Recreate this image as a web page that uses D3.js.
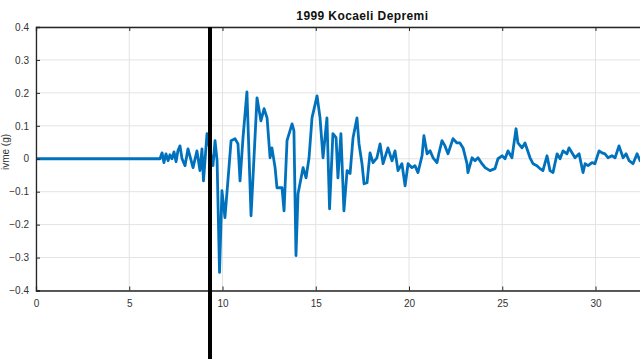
<!DOCTYPE html>
<html>
<head>
<meta charset="utf-8">
<script src="https://cdn.jsdelivr.net/npm/d3@7"></script>
<style>
  body { margin:0; background:#fff; overflow:hidden; }
  text { font-family: "Liberation Sans", Arial, sans-serif; }
  .tick-text { font-size:10px; fill:#333; }
  .grid { stroke:#e3e3e3; stroke-width:1; }
</style>
</head>
<body>
<div id="plot"></div>
<script>
// time (s) and acceleration (g)
var time = [0, 3, 6.11, 6.65, 6.76, 6.86, 6.97, 7.08, 7.18, 7.29, 7.40, 7.51, 7.61, 7.72, 7.83,
  7.99, 8.15, 8.42, 8.63, 8.79, 8.90, 8.98, 9.17, 9.33, 9.49, 9.60, 9.71, 9.84, 9.97,
  10.13, 10.29, 10.46, 10.67, 10.83, 10.94, 11.10, 11.31, 11.53, 11.64, 11.85, 12.06, 12.23,
  12.39, 12.55, 12.65, 12.82, 12.92, 13.19, 13.30, 13.46, 13.73, 13.83, 13.94, 14.05, 14.32,
  14.48, 14.64, 14.80, 15.07, 15.23, 15.39, 15.60, 15.74, 15.92, 16.09, 16.19, 16.35, 16.51,
  16.68, 16.84, 17.00, 17.21, 17.32, 17.48, 17.59, 17.75, 17.91, 18.07, 18.28, 18.45, 18.61,
  18.87, 19.09, 19.25, 19.41, 19.62, 19.79, 19.95, 20.16, 20.32, 20.48, 20.70, 20.80, 20.97,
  21.13, 21.29, 21.50, 21.61, 21.77, 21.93, 22.09, 22.36, 22.57, 22.73, 22.90, 23.11, 23.16,
  23.38, 23.54, 23.70, 23.91, 24.08, 24.34, 24.61, 24.77, 24.99, 25.15, 25.31, 25.52, 25.74,
  25.84, 26.06, 26.22, 26.49, 26.65, 26.86, 27.02, 27.18, 27.40, 27.56, 27.72, 27.94, 28.10,
  28.26, 28.47, 28.58, 28.74, 28.90, 29.12, 29.33, 29.44, 29.60, 29.81, 29.97, 30.19, 30.35,
  30.51, 30.67, 30.88, 31.05, 31.26, 31.48, 31.64, 31.80, 32.01, 32.23, 32.39, 32.65];
var accel = [0, 0, 0, 0, 0.018, -0.012, 0.015, -0.006, 0.012, 0, 0.021, -0.009, 0.024, 0.039, 0,
  -0.021, 0.030, -0.027, 0.024, -0.036, 0.030, -0.067, 0.076, 0.024, -0.021, 0.055, -0.006, -0.345, -0.097,
  -0.179, -0.067, 0.055, 0.061, 0.045, -0.067, 0.064, 0.203, -0.173, -0.052, 0.185, 0.115, 0.152,
  0.124, 0.003, 0.033, -0.027, -0.088, -0.088, -0.158, 0.055, 0.106, 0.085, -0.294, -0.106, -0.027,
  -0.058, 0.003, 0.124, 0.191, 0.124, 0.003, 0.124, -0.152, 0.076, 0.064, -0.058, 0.076, -0.158,
  -0.036, -0.045, 0.064, 0.124, 0.045, -0.015, -0.076, -0.073, 0.018, -0.012, 0.003, 0.045, -0.015,
  0.033, -0.006, 0.024, -0.036, -0.015, -0.082, -0.015, -0.027, -0.021, -0.042, 0.009, 0.070, 0.015,
  0.024, 0.003, -0.012, 0.018, 0.055, 0.039, 0.015, 0.061, 0.048, 0.048, 0.033, -0.015, -0.042,
  0.003, -0.006, 0.003, -0.015, -0.027, -0.036, -0.030, 0, 0.009, 0, 0.024, 0.003, 0.091,
  0.048, 0.033, 0.048, 0.003, -0.015, -0.021, -0.030, -0.036, 0.009, -0.036, -0.042, 0.015, 0,
  0.024, 0.015, 0.033, 0.018, 0.003, 0.015, -0.042, -0.015, -0.021, -0.012, -0.015, 0.024, 0.018,
  0.015, 0.003, 0.009, 0.003, 0.039, 0.003, 0.015, -0.006, -0.015, 0.015, -0.006, 0.009];

var xTicks = [0, 5, 10, 15, 20, 25, 30];
var yTicks = [-0.4, -0.3, -0.2, -0.1, 0, 0.1, 0.2, 0.3, 0.4];
var markerTime = [9.33];
var title = '1999 Kocaeli Depremi';
var yLabel = 'ivme (g)';

var W = 640, H = 359;
var margin = {top:27, left:36, bottom:68};
var side = 35 * 18.65;

var svg = d3.select('#plot').append('svg')
	.attr('width', W)
	.attr('height', H);

var x = d3.scaleLinear().domain([0, 35]).range([margin.left, margin.left + side]);
var y = d3.scaleLinear().domain([-0.4, 0.4]).range([H - margin.bottom - 0.5, margin.top]);

var x0 = x.range()[0], x1 = x.range()[1];
var y0 = y.range()[0], y1 = y.range()[1];

svg.append('rect')
	.attr('x', x0).attr('y', y1)
	.attr('width', x1 - x0).attr('height', y0 - y1)
	.attr('fill', '#fff');

// grid
var axes = svg.append('g').attr('class','axes');
xTicks.forEach(function(v){
	axes.append('line').attr('class','grid')
		.attr('x1', x(v)).attr('x2', x(v)).attr('y1', y0).attr('y2', y1);
});
yTicks.forEach(function(v){
	axes.append('line').attr('class','grid')
		.attr('x1', x0).attr('x2', x1).attr('y1', y(v)).attr('y2', y(v));
});

// signal
var line = d3.line()
	.x(function(d){ return x(d[0]); })
	.y(function(d){ return y(d[1]); });

svg.append('path')
	.datum(time.map(function(t, i){ return [t, accel[i]]; }))
	.attr('d', line)
	.attr('fill', 'none')
	.attr('stroke', '#0072BD')
	.attr('stroke-width', 2.8)
	.attr('stroke-linejoin', 'round');

// box + ticks
var boxColor = '#262626';
var bottomAxis = d3.axisBottom(x).tickValues(xTicks).tickSize(-4).tickPadding(9).tickFormat(d3.format('d'));
var topAxis = d3.axisTop(x).tickValues(xTicks).tickSize(-4).tickFormat('');
var leftAxis = d3.axisLeft(y).tickValues(yTicks).tickSize(-4).tickPadding(7)
	.tickFormat(function(d){ return d === 0 ? '0' : d3.format('.1f')(d); });

var gb = svg.append('g').attr('transform', 'translate(0,' + y0 + ')').call(bottomAxis);
var gt = svg.append('g').attr('transform', 'translate(0,' + y1 + ')').call(topAxis);
var gl = svg.append('g').attr('transform', 'translate(' + x0 + ',0)').call(leftAxis);
[gb, gt, gl].forEach(function(g){
	g.select('.domain').attr('stroke', boxColor).attr('stroke-width', 1.3);
	g.selectAll('.tick line').attr('stroke', boxColor);
	g.selectAll('.tick text').attr('class', 'tick-text').attr('font-size', 10).attr('fill', '#333');
});

// vertical marker
svg.selectAll('.marker')
	.data(markerTime)
	.enter().append('line')
	.attr('class', 'marker')
	.attr('x1', function(d){ return x(d); })
	.attr('x2', function(d){ return x(d); })
	.attr('y1', y1).attr('y2', H)
	.attr('stroke', '#000')
	.attr('stroke-width', 4);

// title
svg.append('text')
	.attr('x', (x0 + x1) / 2)
	.attr('y', 20)
	.attr('text-anchor', 'middle')
	.attr('font-weight', 'bold')
	.attr('font-size', 12)
	.attr('letter-spacing', 0.4)
	.attr('fill', '#111')
	.text(title);

// y label (half off the page)
svg.append('text')
	.attr('transform', 'translate(9,152) rotate(-90)')
	.attr('text-anchor', 'middle')
	.attr('font-size', 10)
	.attr('fill', '#333')
	.text(yLabel);
</script>
</body>
</html>
